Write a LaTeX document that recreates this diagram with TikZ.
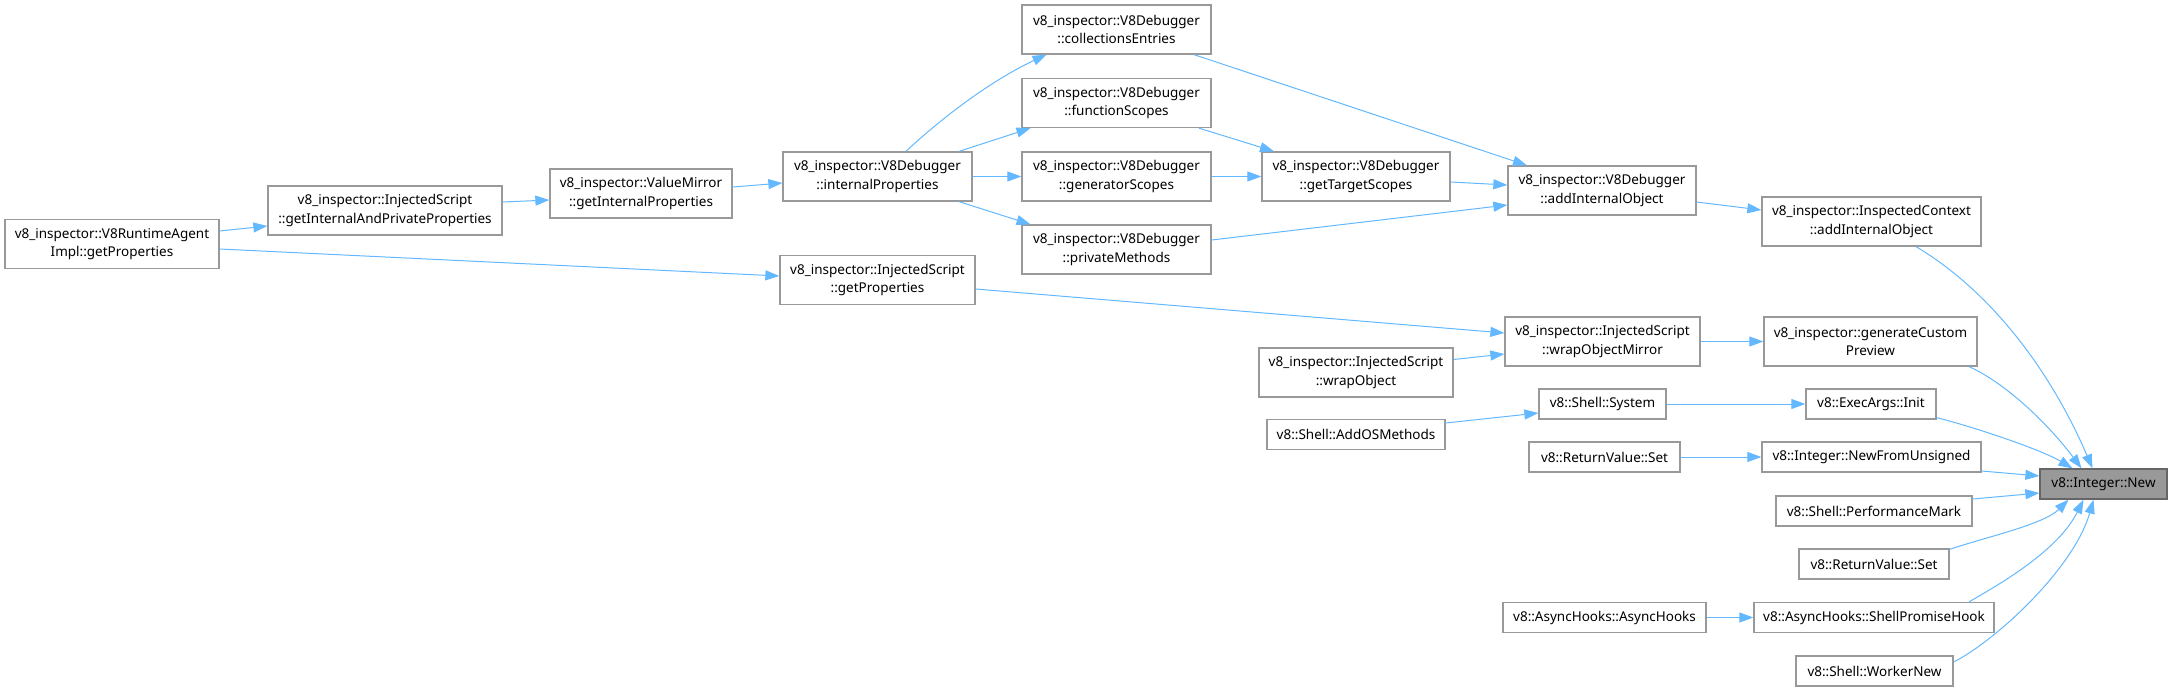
\documentclass[tikz,border=0pt]{standalone}
\usepackage{fontspec}
\setmainfont{Noto Sans}
\usetikzlibrary{arrows.meta,calc}
\definecolor{edgeblue}{HTML}{63B8FF}
\definecolor{boxgray}{HTML}{999999}
\definecolor{darkgray}{HTML}{666666}
\tikzset{
  box/.style={draw=boxgray, line width=1.3pt, fill=white, inner sep=0pt, align=center,
    font=\fontsize{13.5}{18.5}\selectfont, text=black},
  one/.style={box, minimum height=30pt},
  two/.style={box, minimum height=49pt},
  focus/.style={one, fill=boxgray, draw=darkgray},
  edge/.style={draw=edgeblue, line width=1pt, -{Triangle[length=14pt,width=10pt]}}
}
\begin{document}
\begin{tikzpicture}[x=1pt,y=-1pt]
\useasboundingbox (0,0) rectangle (2172,691);
% nodes
\node[two, minimum width=214pt] (A) at (112,244) {v8\_inspector::V8RuntimeAgent\\Impl::getProperties};
\node[two, minimum width=234pt] (B) at (385,210.5) {v8\_inspector::InjectedScript\\::getInternalAndPrivateProperties};
\node[two, minimum width=182pt] (C) at (641,193.5) {v8\_inspector::ValueMirror\\::getInternalProperties};
\node[two, minimum width=189pt] (D) at (877.5,176.5) {v8\_inspector::V8Debugger\\::internalProperties};
\node[two, minimum width=189pt] (E) at (1116.5,29.5) {v8\_inspector::V8Debugger\\::collectionsEntries};
\node[two, minimum width=189pt] (F) at (1116.5,103) {v8\_inspector::V8Debugger\\::functionScopes};
\node[two, minimum width=189pt] (G) at (1116.5,176.5) {v8\_inspector::V8Debugger\\::generatorScopes};
\node[two, minimum width=189pt] (H) at (1116.5,249.5) {v8\_inspector::V8Debugger\\::privateMethods};
\node[two, minimum width=188pt] (I) at (1356,176.5) {v8\_inspector::V8Debugger\\::getTargetScopes};
\node[two, minimum width=188pt] (J) at (1602,190.5) {v8\_inspector::V8Debugger\\::addInternalObject};
\node[two, minimum width=219pt] (K) at (1871.5,221.5) {v8\_inspector::InspectedContext\\::addInternalObject};
\node[two, minimum width=195pt] (L) at (877.5,280) {v8\_inspector::InjectedScript\\::getProperties};
\node[two, minimum width=195pt] (M) at (1602.5,341.5) {v8\_inspector::InjectedScript\\::wrapObjectMirror};
\node[two, minimum width=194pt] (N) at (1356,372.5) {v8\_inspector::InjectedScript\\::wrapObject};
\node[two, minimum width=213pt] (O) at (1870.5,341.5) {v8\_inspector::generateCustom\\Preview};
\node[one, minimum width=127pt] (P) at (1602.5,404) {v8::Shell::System};
\node[one, minimum width=178pt] (Q) at (1356,434.5) {v8::Shell::AddOSMethods};
\node[one, minimum width=130pt] (R) at (1871,404) {v8::ExecArgs::Init};
\node[one, minimum width=151pt] (S) at (1604.5,457) {v8::ReturnValue::Set};
\node[one, minimum width=219pt] (T) at (1871.5,457) {v8::Integer::NewFromUnsigned};
\node[focus, minimum width=127pt] (U) at (2103.5,484) {v8::Integer::New};
\node[one, minimum width=196pt] (V) at (1874,511) {v8::Shell::PerformanceMark};
\node[one, minimum width=150pt] (W) at (1874,564) {v8::ReturnValue::Set};
\node[one, minimum width=203pt] (X) at (1604.5,617.5) {v8::AsyncHooks::AsyncHooks};
\node[one, minimum width=240pt] (Y) at (1874,617.5) {v8::AsyncHooks::ShellPromiseHook};
\node[one, minimum width=157pt] (Z) at (1874.5,671) {v8::Shell::WorkerNew};
% edges
\draw[edge] ($(A.east)+(0,-13)$) -- ($(B.west)+(0,15.5)$);
\draw[edge] ($(A.east)+(0,5)$) -- ($(L.west)+(0,-4)$);
\draw[edge] ($(B.east)+(0,-8.5)$) -- ($(C.west)+(0,6.5)$);
\draw[edge] ($(C.east)+(0,-6.5)$) -- ($(D.west)+(0,6.5)$);
\draw[edge] (D.east) -- (G.west);
\draw[edge] ($(D.north)+(81.5,0)$) -- ($(F.south)+(-86,0)$);
\draw[edge] ($(D.south)+(81.5,0)$) -- ($(H.north)+(-86,0)$);
\draw[edge] ($(D.north)+(28.5,0)$) .. controls +(34,-32) and +(-56,26) .. ($(E.south)+(-70,0)$);
\draw[edge] ($(F.south)+(82.5,0)$) -- ($(I.north)+(-82,0)$);
\draw[edge] (G.east) -- (I.west);
\draw[edge] ($(E.south)+(77.5,0)$) -- ($(J.north)+(-75,0)$);
\draw[edge] ($(I.east)+(0,5.5)$) -- ($(J.west)+(0,-5.5)$);
\draw[edge] ($(H.east)+(0,-9.5)$) -- ($(J.west)+(0,14.5)$);
\draw[edge] ($(J.east)+(0,11.5)$) -- ($(K.west)+(0,-11.5)$);
\draw[edge] ($(L.east)+(0,9)$) -- ($(M.west)+(0,-8.5)$);
\draw[edge] ($(N.east)+(0,-13)$) -- ($(M.west)+(0,12.5)$);
\draw[edge] (M.east) -- (O.west);
\draw[edge] ($(Q.east)+(0,-11.5)$) -- ($(P.west)+(0,9)$);
\draw[edge] (P.east) -- (R.west);
\draw[edge] (S.east) -- (T.west);
\draw[edge] (X.east) -- (Y.west);
\draw[edge] ($(K.south)+(44.5,0)$) .. controls +(74,44) and +(-42.5,-99) .. ($(U.north)+(-11,0)$);
\draw[edge] ($(O.south)+(98.5,0)$) .. controls +(40,18) and +(-30,-40) .. ($(U.north)+(-22,0)$);
\draw[edge] ($(R.south east)+(0,-2)$) .. controls +(40,10) and +(-30,-18) .. ($(U.north)+(-31,0)$);
\draw[edge] ($(T.east)+(0,14)$) -- ($(U.west)+(0,-8)$);
\draw[edge] ($(V.east)+(0,-12)$) -- ($(U.west)+(0,9)$);
\draw[edge] ($(W.north east)+(0,1)$) .. controls +(35,-12) and +(-25,25) .. ($(U.south)+(-35,0)$);
\draw[edge] ($(Y.north)+(95,0)$) .. controls +(35,-20) and +(-25,50) .. ($(U.south)+(-20,0)$);
\draw[edge] ($(Z.east)+(0,-9)$) .. controls +(40,-20) and +(-20,70) .. ($(U.south)+(-10,0)$);
\end{tikzpicture}
\end{document}
